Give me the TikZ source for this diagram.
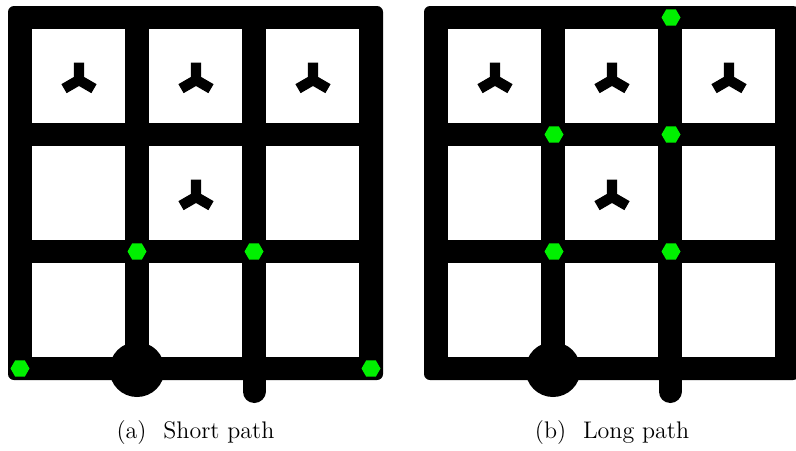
\documentclass[tikz,border=0pt]{standalone}
\usepackage{xcolor}
\definecolor{mur}{HTML}{000000}
\definecolor{balise}{HTML}{00F000}
\usepackage{tikz}
\usetikzlibrary{shapes.geometric}

\begin{document}
\begin{tikzpicture}[x=0.5pt,y=-0.5pt,font=\fontsize{12}{14}\selectfont,
    balise/.style={regular polygon,regular polygon sides=6,fill=balise,
      minimum size=9.5pt,inner sep=0pt}]
  \useasboundingbox (0,0) rectangle (796,450);
  \clip (0,0) rectangle (796,450);
  % plateau : decalage horizontal
  \def\plateau#1{\begin{scope}[shift={(#1,0)}]
     \fill[mur,rounded corners=3pt] (8,6) rectangle (383,380);
     \foreach \i in {0,1,2} \foreach \j in {0,1,2}
        \fill[white] ({32+117*\i},{29+117*\j}) rectangle ++(93,94);
     % sortie et entree
     \draw[mur,line width=11.5pt,line cap=round] (254,370) -- (254,391.5);
     \fill[mur] (137,369.5) circle (27.5);
     % obstacles
     \foreach \cx/\cy in {79/80,196/80,313/80,196/197}
        \draw[mur,line width=5.2pt] (\cx,\cy-17.3) -- (\cx,\cy) -- ++(150:17.3)
           (\cx,\cy) -- ++(30:17.3);
  \end{scope}}
  % (a) chemin court
  \plateau{0}
  \node[balise] (a1) at (137,251.5) {};
  \node[balise] (a2) at (254,251.5) {};
  \node[balise] (a3) at (20,368.5) {};
  \node[balise] (a4) at (371,368.5) {};
  \node[anchor=base] (capa) at (195.5,438) {(a)\hspace{0.7em}Short path};
  % (b) chemin long
  \plateau{416}
  \node[balise] (b1) at (671,17.5) {};
  \node[balise] (b2) at (554,134.5) {};
  \node[balise] (b3) at (671,134.5) {};
  \node[balise] (b4) at (554,251.5) {};
  \node[balise] (b5) at (671,251.5) {};
  \node[anchor=base] (capb) at (612,438) {(b)\hspace{0.7em}Long path};
\end{tikzpicture}
\end{document}
